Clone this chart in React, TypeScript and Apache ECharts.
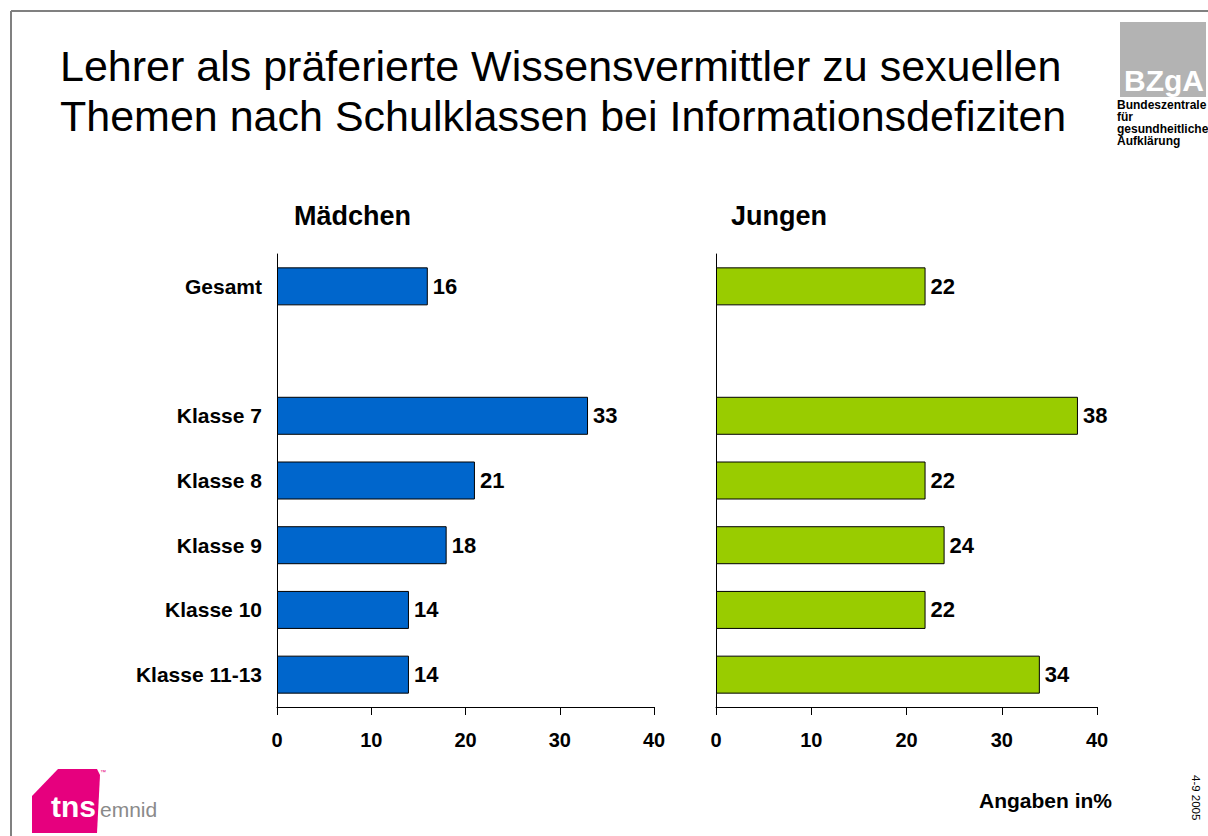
import React, { useEffect, useRef } from "react";
import * as echarts from "echarts";

const categories = ["Gesamt", "", "Klasse 7", "Klasse 8", "Klasse 9", "Klasse 10", "Klasse 11-13"];
const maedchen = [16, null, 33, 21, 18, 14, 14];
const jungen = [22, null, 38, 22, 24, 22, 34];
const xTicks = [0, 10, 20, 30, 40];

const FONT = "Liberation Sans, Arial, Helvetica, sans-serif";

export default function App() {
  const ref = useRef<HTMLDivElement>(null);
  useEffect(() => {
    if (!ref.current) return;
    const chart = echarts.init(ref.current, null, { renderer: "svg" });
    const xAxisBase = (gridIndex: number) => ({
      type: "value" as const,
      gridIndex,
      min: xTicks[0],
      max: xTicks[xTicks.length - 1],
      interval: 10,
      splitLine: { show: false },
      axisLine: { show: true, lineStyle: { color: "#000", width: 1 } },
      axisTick: { show: true, length: 8, lineStyle: { color: "#000" } },
      axisLabel: { color: "#000", fontWeight: "bold", fontSize: 20, fontFamily: FONT, margin: 23 },
    });
    const yAxisBase = (gridIndex: number, showLabels: boolean) => ({
      type: "category" as const,
      gridIndex,
      data: categories,
      inverse: true,
      axisLine: { show: true, lineStyle: { color: "#000", width: 1 } },
      axisTick: { show: false },
      axisLabel: {
        show: showLabels,
        color: "#000",
        fontWeight: "bold",
        fontSize: 21,
        fontFamily: FONT,
        margin: 15,
      },
    });
    const labelStyle = {
      show: true,
      position: "right" as const,
      distance: 5,
      color: "#000",
      fontWeight: "bold" as const,
      fontSize: 22,
      fontFamily: FONT,
    };
    chart.setOption({
      animation: false,
      backgroundColor: "#fff",
      grid: [
        { left: 277, width: 377, top: 254, height: 453 },
        { left: 716, width: 381, top: 254, height: 453 },
      ],
      xAxis: [xAxisBase(0), xAxisBase(1)],
      yAxis: [yAxisBase(0, true), yAxisBase(1, false)],
      series: [
        {
          type: "bar",
          name: "Mädchen",
          xAxisIndex: 0,
          yAxisIndex: 0,
          data: maedchen,
          barWidth: 38,
          itemStyle: { color: "#0066cc", borderColor: "#000", borderWidth: 1 },
          label: labelStyle,
        },
        {
          type: "bar",
          name: "Jungen",
          xAxisIndex: 1,
          yAxisIndex: 1,
          data: jungen,
          barWidth: 38,
          itemStyle: { color: "#99cc00", borderColor: "#000", borderWidth: 1 },
          label: labelStyle,
        },
      ],
      title: [
        {
          text: "Lehrer als präferierte Wissensvermittler zu sexuellen\nThemen nach Schulklassen bei Informationsdefiziten",
          left: 55,
          top: 36,
          textStyle: { fontFamily: FONT, fontSize: 43, fontWeight: "normal", color: "#000", lineHeight: 50 },
        },
        {
          text: "Mädchen",
          left: 289,
          top: 197,
          textStyle: { fontFamily: FONT, fontSize: 27, fontWeight: "bold", color: "#000" },
        },
        {
          text: "Jungen",
          left: 726,
          top: 197,
          textStyle: { fontFamily: FONT, fontSize: 27, fontWeight: "bold", color: "#000" },
        },
      ],
      graphic: [
        // frame
        { type: "line", shape: { x1: 11, y1: 11, x2: 1210, y2: 11 }, style: { stroke: "#808080", lineWidth: 2 } },
        { type: "line", shape: { x1: 11, y1: 11, x2: 11, y2: 840 }, style: { stroke: "#808080", lineWidth: 2 } },
        // BZgA logo
        { type: "rect", shape: { x: 1120, y: 22, width: 86, height: 75 }, style: { fill: "#b3b3b3" } },
        {
          type: "text",
          x: 1164,
          y: 80,
          style: {
            text: "BZgA",
            fill: "#fff",
            font: "bold 30px " + FONT,
            align: "center",
            verticalAlign: "middle",
          },
        },
        {
          type: "text",
          x: 1117,
          y: 99,
          style: {
            text: "Bundeszentrale\nfür\ngesundheitliche\nAufklärung",
            fill: "#000",
            font: "bold 12px " + FONT,
            lineHeight: 12,
            align: "left",
            verticalAlign: "top",
          },
        },
        // tns emnid logo
        {
          type: "polygon",
          shape: {
            points: [
              [32, 796],
              [58, 769],
              [97, 769],
              [100, 775],
              [97, 833],
              [32, 833],
            ],
          },
          style: { fill: "#e6007e" },
        },
        {
          type: "text",
          x: 51,
          y: 806,
          style: { text: "tns", fill: "#fff", font: "bold 30px " + FONT, align: "left", verticalAlign: "middle" },
        },
        {
          type: "text",
          x: 100,
          y: 809,
          style: {
            text: "emnid",
            fill: "#8a8a8a",
            font: "21px " + FONT,
            align: "left",
            verticalAlign: "middle",
          },
        },
        {
          type: "text",
          x: 100,
          y: 772,
          style: { text: "™", fill: "#e6007e", font: "6px " + FONT, align: "left", verticalAlign: "middle" },
        },
        // footer texts
        {
          type: "text",
          x: 1112,
          y: 800,
          style: { text: "Angaben in%", fill: "#000", font: "bold 21px " + FONT, align: "right", verticalAlign: "middle" },
        },
        {
          type: "text",
          x: 1196,
          y: 775,
          rotation: -Math.PI / 2,
          style: { text: "4-9 2005", fill: "#000", font: "11.5px " + FONT, align: "left", verticalAlign: "middle" },
        },
      ],
    });
    return () => chart.dispose();
  }, []);
  return (
    <div
      ref={ref}
      style={{ position: "absolute", left: 0, top: 0, width: 1208, height: 836 }}
    />
  );
}
